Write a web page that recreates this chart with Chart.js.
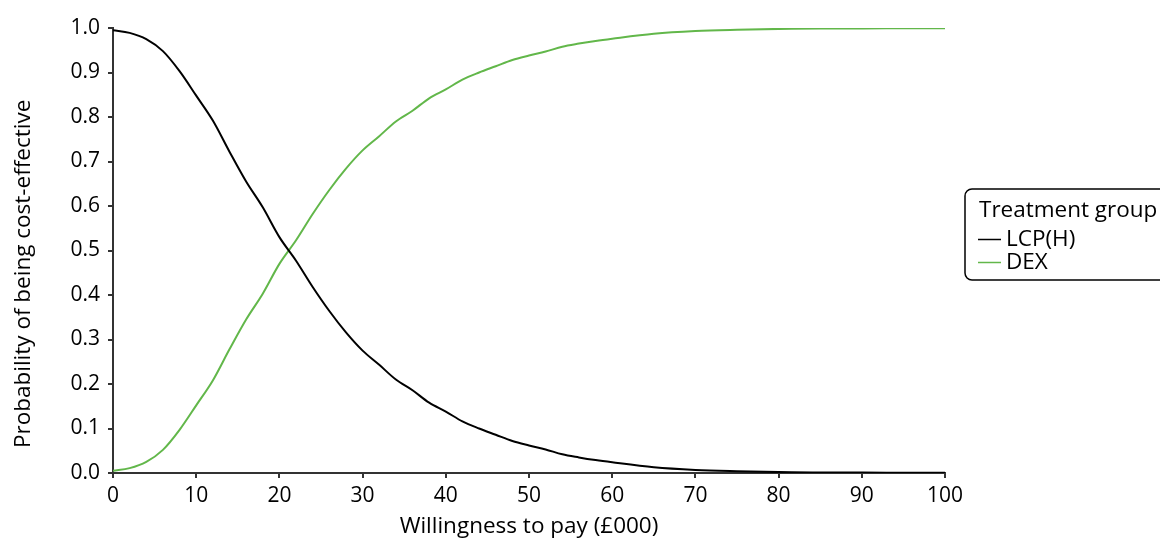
<!DOCTYPE html>
<html>
<head>
<meta charset="utf-8">
<script src="https://cdn.jsdelivr.net/npm/chart.js@4/dist/chart.umd.min.js"></script>
<style>
  html, body { margin: 0; padding: 0; background: #fff; }
  #wrap { width: 1160px; height: 540px; }
</style>
</head>
<body>
<div id="wrap"><canvas id="chart" width="1160" height="540"></canvas></div>
<script>
// willingness to pay (£000)
const wtp = [0, 2, 4, 6, 8, 10, 12, 14, 16, 18, 20, 22, 24, 26, 28, 30, 32, 34, 36, 38, 40,
  42, 44, 46, 48, 50, 52, 54, 56, 58, 60, 65, 70, 75, 80, 85, 90, 95, 100];

const lcpH = [0.995, 0.989, 0.975, 0.948, 0.903, 0.848, 0.792, 0.722, 0.655, 0.597, 0.530,
  0.477, 0.418, 0.364, 0.316, 0.275, 0.243, 0.210, 0.186, 0.158, 0.138,
  0.116, 0.100, 0.086, 0.072, 0.062, 0.053, 0.042, 0.035, 0.029, 0.024,
  0.013, 0.007, 0.004, 0.002, 0.001, 0.001, 0.0005, 0.0003];

const dex = [0.005, 0.011, 0.025, 0.052, 0.097, 0.152, 0.208, 0.278, 0.345, 0.403, 0.470,
  0.523, 0.582, 0.636, 0.684, 0.725, 0.757, 0.790, 0.814, 0.842, 0.862,
  0.884, 0.900, 0.914, 0.928, 0.938, 0.947, 0.958, 0.965, 0.971, 0.976,
  0.987, 0.993, 0.996, 0.998, 0.999, 0.999, 0.9995, 0.9997];

const FONT = "'Open Sans', 'Noto Sans', sans-serif";
const axisColor = "#333";

// legend box drawn by hand, to get the rounded frame with a title
const boxLegend = {
  id: "boxLegend",
  afterDraw(chart) {
    const ctx = chart.ctx;
    const x = 965, y = 189, w = 230, h = 91, r = 7;
    ctx.save();
    ctx.strokeStyle = "#000";
    ctx.lineWidth = 1.5;
    ctx.beginPath();
    ctx.roundRect(x, y, w, h, r);
    ctx.stroke();
    ctx.fillStyle = "#000";
    ctx.font = "22.5px " + FONT;
    ctx.textBaseline = "alphabetic";
    ctx.fillText("Treatment group", 979, 217);
    chart.data.datasets.forEach((ds, i) => {
      const ly = 239.5 + i * 23;
      ctx.strokeStyle = ds.borderColor;
      ctx.lineWidth = 1.5;
      ctx.beginPath();
      ctx.moveTo(978, ly);
      ctx.lineTo(1001, ly);
      ctx.stroke();
      ctx.fillStyle = "#000";
      ctx.fillText(ds.label, 1006, ly + 6.5);
    });
    ctx.restore();
  }
};

new Chart(document.getElementById("chart").getContext("2d"), {
  type: "line",
  data: {
    datasets: [
      {
        label: "LCP(H)",
        data: wtp.map((x, i) => ({ x: x, y: lcpH[i] })),
        borderColor: "#000",
        borderWidth: 2,
        pointRadius: 0,
        cubicInterpolationMode: "monotone",
      },
      {
        label: "DEX",
        data: wtp.map((x, i) => ({ x: x, y: dex[i] })),
        borderColor: "#62b74a",
        borderWidth: 2,
        pointRadius: 0,
        cubicInterpolationMode: "monotone",
      },
    ],
  },
  options: {
    responsive: false,
    animation: false,
    layout: { padding: { left: 0, top: 28, right: 215, bottom: 0 } },
    plugins: {
      legend: { display: false },
      tooltip: { enabled: false },
    },
    scales: {
      x: {
        type: "linear",
        min: 0,
        max: 100,
        afterFit: (s) => { s.height = 67; },
        ticks: { stepSize: 10, color: "#000", font: { family: FONT, size: 21 }, padding: 5 },
        grid: { drawOnChartArea: false, drawTicks: true, tickLength: 5, color: axisColor, lineWidth: 2 },
        border: { display: true, color: axisColor, width: 2 },
        title: {
          display: true,
          text: "Willingness to pay (£000)",
          color: "#000",
          font: { family: FONT, size: 22.5 },
          padding: { top: 0, bottom: 0 },
        },
      },
      y: {
        min: 0,
        max: 1,
        afterFit: (s) => { s.width = 113; },
        ticks: {
          stepSize: 0.1,
          color: "#000",
          font: { family: FONT, size: 21 },
          padding: 8,
          callback: (v) => v.toFixed(1),
        },
        grid: { drawOnChartArea: false, drawTicks: true, tickLength: 5, color: axisColor, lineWidth: 2 },
        border: { display: true, color: axisColor, width: 2 },
        title: {
          display: true,
          text: "Probability of being cost-effective        ",
          color: "#000",
          font: { family: FONT, size: 22.5 },
          padding: { top: 10, bottom: 0 },
        },
      },
    },
  },
  plugins: [boxLegend],
});
</script>
</body>
</html>
